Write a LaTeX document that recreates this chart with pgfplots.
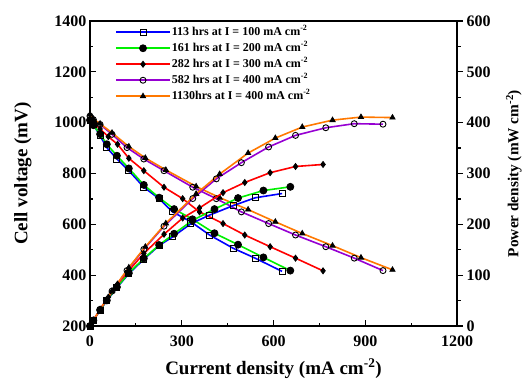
\documentclass[border=0pt]{standalone}
\usepackage{fontspec}
\setmainfont{Liberation Serif}
\usepackage{pgfplots}
\pgfplotsset{compat=1.18}
\definecolor{cBlue}{RGB}{0,0,255}
\definecolor{cGreen}{RGB}{0,240,0}
\definecolor{cRed}{RGB}{255,0,0}
\definecolor{cPurple}{RGB}{150,0,210}
\definecolor{cOrange}{RGB}{255,120,0}
\tikzset{ser/.style={line width=1.6pt, mark size=3pt, mark options={draw=black, fill=black, solid, line width=0.8pt}},
  sero/.style={line width=1.6pt, mark size=3pt, mark options={draw=black, fill=none, solid, line width=0.9pt}}}
\pgfplotsset{
  common/.style={
    scale only axis, width=367pt, height=305pt,
    xmin=0, xmax=1200,
    axis line style={line width=1.5pt},
    major tick length=6pt, minor tick length=3.5pt,
    every tick/.style={black, line width=1.2pt},
    /pgf/number format/1000 sep={},
    xticklabel={\pgfmathprintnumber[assume math mode=true]{\tick}},
    yticklabel={\pgfmathprintnumber[assume math mode=true]{\tick}},
    tick label style={font=\bfseries\fontsize{16}{16}\selectfont},
    label style={font=\bfseries\fontsize{19}{19}\selectfont},
  },
}
\begin{document}
\begin{tikzpicture}
\begin{axis}[common, name=main,
  ymin=200, ymax=1400,
  xtick={0,300,...,1200}, ytick={200,400,...,1400},
  minor x tick num=1, minor y tick num=1,
  tick align=inside, xtick pos=left, ytick pos=left,
  xticklabel style={yshift=-6.5pt},
  xlabel={Current density (mA cm\textsuperscript{-2})},
  ylabel={Cell voltage (mV)},
  xlabel style={at={(0.5,-0.14)}, anchor=center},
  ylabel style={at={(-0.183,0.5)}, anchor=center},
  legend style={at={(0.06,0.99)}, anchor=north west, draw=none, fill=none,
    font=\bfseries\fontsize{12}{12}\selectfont, row sep=4pt,
    nodes={inner sep=1pt, text height=8pt, text depth=2pt}},
  legend cell align=left,
  legend image code/.code={\draw[#1,mark repeat=2,mark phase=2] plot coordinates {(0pt,0pt) (27pt,0pt) (54pt,0pt)};},
]
\addplot[sero, cBlue, mark=square] coordinates {(0,1010)(11,993)(33,948)(55,902)(88,857)(127,811)(176,746)(226,701)(270,649)(330,610)(391,558)(468,506)(540,467)(628,415)};
\addlegendentry{113 hrs at I = 100 mA cm\textsuperscript{-2}}
\addplot[ser, cGreen, mark=*, mark size=3.5pt] coordinates {(0,1010)(11,990)(33,955)(55,915)(88,870)(127,820)(176,755)(226,705)(275,660)(335,620)(407,565)(484,520)(567,470)(655,418)};
\addlegendentry{161 hrs at I = 200 mA cm\textsuperscript{-2}}
\addplot[ser, cRed, mark=diamond*] coordinates {(0,1015)(11,1000)(33,975)(60,945)(90,915)(127,860)(176,811)(242,746)(303,701)(358,649)(435,603)(506,558)(589,512)(672,467)(762,417)};
\addlegendentry{282 hrs at I = 300 mA cm\textsuperscript{-2}}
\addplot[sero, cPurple, mark=o] coordinates {(0,1026)(11,1012)(33,993)(72,954)(121,902)(176,857)(242,811)(336,746)(413,701)(495,649)(584,603)(672,558)(771,512)(864,467)(958,418)};
\addlegendentry{582 hrs at I = 400 mA cm\textsuperscript{-2}}
\addplot[ser, cOrange, mark=triangle*] coordinates {(0,1032)(11,1015)(33,996)(72,960)(127,906)(181,861)(248,814)(347,749)(424,705)(517,658)(606,610)(694,564)(793,516)(886,469)(989,421)};
\addlegendentry{1130hrs at I = 400 mA cm\textsuperscript{-2}}
\end{axis}
\begin{axis}[common,
  ymin=0, ymax=600,
  axis x line=none, axis y line*=right,
  ytick={0,100,...,600}, minor y tick num=1,
  tick align=outside,
  ylabel={Power density (mW cm\textsuperscript{-2})},
  ylabel style={at={(1.155,0.5)}, anchor=center, font=\bfseries\fontsize{15.3}{15.3}\selectfont},
]
\addplot[sero, cBlue, mark=square] coordinates {(0,0)(11,10.9)(33,31.3)(55,49.6)(88,75.4)(127,103)(176,131.3)(226,158.4)(270,175.2)(330,201.3)(391,218.2)(468,236.8)(540,252.2)(628,260.6)};
\addplot[ser, cGreen, mark=*, mark size=3.5pt] coordinates {(0,0)(11,10.9)(33,31.5)(55,50.3)(88,76.6)(127,104.1)(176,132.9)(226,159.3)(275,181.5)(335,207.7)(407,230)(484,251.7)(567,266.5)(655,273.8)};
\addplot[ser, cRed, mark=diamond*] coordinates {(0,0)(11,11)(33,32.2)(60,56.7)(90,82.4)(127,109.2)(176,142.7)(242,180.5)(303,212.4)(358,232.3)(435,262.3)(506,282.3)(589,301.6)(672,313.8)(762,317.8)};
\addplot[sero, cPurple, mark=o] coordinates {(0,0)(11,11.1)(33,32.8)(72,68.7)(121,109.1)(176,150.8)(242,196.3)(336,250.7)(413,289.5)(495,321.3)(584,352.2)(672,375)(771,390)(864,398)(958,397)};
\addplot[ser, cOrange, mark=triangle*] coordinates {(0,0)(11,11.2)(33,32.9)(72,69.1)(127,115.1)(181,155.8)(248,201.9)(347,259.9)(424,298.9)(517,340.2)(606,369.7)(694,391.4)(793,405)(886,411)(989,410)};
\end{axis}
\pgfresetboundingbox
\path ([shift={(-90pt,-55pt)}]main.south west) rectangle ([shift={(69pt,21pt)}]main.north east);
\end{tikzpicture}
\end{document}
